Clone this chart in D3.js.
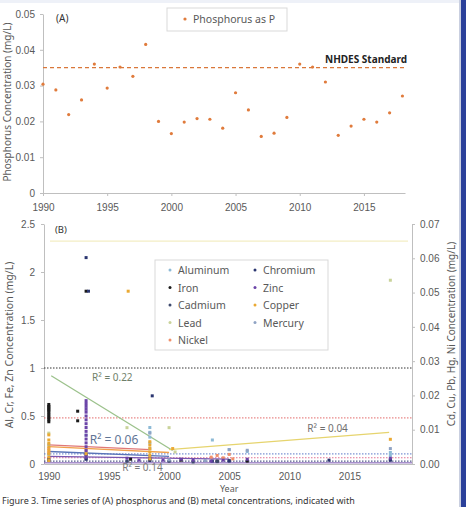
<!DOCTYPE html>
<html>
<head>
<meta charset="utf-8">
<script src="https://cdn.jsdelivr.net/npm/d3@7/dist/d3.min.js"></script>
<style>
	body { margin: 0; background: #fff; }
	svg { display: block; font-family: "Noto Sans", "Open Sans", sans-serif; }
	.tick text { fill: #595959; font-size: 10px; }
</style>
</head>
<body>
<svg id="chart" width="466" height="507"></svg>
<script>
// ---- panel A : phosphorus ----
var pYears = [1990,1991,1992,1993,1994,1995,1996,1997,1998,1999,2000,2001,2002,2003,2004,2005,2006,2007,2008,2009,2010,2011,2012,2013,2014,2015,2016,2017,2018];
var pValues = [0.0304,0.0288,0.0219,0.0260,0.0360,0.0293,0.0352,0.0326,0.0415,0.0200,0.0166,0.0198,0.0208,0.0206,0.0181,0.0280,0.0232,0.0158,0.0167,0.0211,0.0360,0.0352,0.0310,0.0161,0.0187,0.0206,0.0198,0.0224,0.0271];
var pStandard = 0.035;
var pTicksY = [0, 0.01, 0.02, 0.03, 0.04, 0.05];
var yearTicks = [1990, 1995, 2000, 2005, 2010, 2015];

// ---- panel B : metals, left axis (Al, Cr, Fe, Zn) ----
var aluminum = [[1990,0.2],[1990,0.1],[1993.1,0.3],[1998.4,0.38],[1998.4,0.33],[1998.4,0.28],[1998.4,0.22],[1998.4,0.16],[2003.6,0.25],[2005,0.15],[2006.5,0.13],[2018.4,0.12],[2018.4,0.09]];
var iron = [[1990,0.62],[1990,0.6],[1990,0.59],[1990,0.57],[1990,0.56],[1990,0.54],[1990,0.52],[1990,0.5],[1990,0.48],[1990,0.46],[1990,0.44],[1992.4,0.55],[1992.4,0.45],[1993.1,1.8],[1993.1,0.1],[1996.8,0.05],[1998.4,0.06],[2001,0.04],[2004,0.03],[2006.5,0.03]];
var chromium = [[1993.1,2.15],[1993.3,1.8],[1998.6,0.71],[1990,0.05],[1993.1,0.05],[1998.4,0.04],[2003.6,0.03],[2005,0.03],[2013.3,0.04],[2018.4,0.04]];
var zinc = [[1993.1,0.66],[1993.1,0.63],[1993.1,0.6],[1993.1,0.57],[1993.1,0.54],[1993.1,0.5],[1993.1,0.46],[1993.1,0.42],[1993.1,0.38],[1993.1,0.34],[1993.1,0.3],[1993.1,0.26],[1993.1,0.22],[1993.1,0.18],[1993.1,0.14],[1993.1,0.1],[1993.1,0.07],[1996.5,0.06],[1997.5,0.04],[1998.4,0.06],[1999.5,0.04],[2001,0.05],[2002,0.04],[2003.5,0.03],[2004.5,0.04],[2006.5,0.05],[2018.4,0.06]];

// ---- panel B : metals, right axis (Cd, Cu, Pb, Hg, Ni) ----
var cadmium = [[1990,0.0012],[1993.1,0.0015],[1996.5,0.0008],[1998.4,0.001],[2000,0.0008],[2002,0.0006],[2004,0.0007],[2005,0.001],[2018.4,0.0012]];
var copper = [[1990,0.0085],[1990,0.007],[1990,0.006],[1990,0.005],[1990,0.004],[1990,0.003],[1990,0.002],[1990,0.001],[1993.1,0.003],[1996.6,0.0504],[1998.4,0.0065],[1998.4,0.0055],[1998.4,0.0045],[1998.4,0.0035],[1998.4,0.0025],[1998.4,0.0015],[2000.3,0.0045],[2018.4,0.0072]];
var lead = [[1996.5,0.0106],[2000,0.0106],[2000.5,0.0035],[2018.4,0.0536],[1990,0.009]];
var mercury = [[1998.4,0.009],[2000,0.0012],[2003,0.001],[2005,0.0042],[2006.5,0.004],[2018.4,0.0045]];
var nickel = [[1990,0.0045],[1990,0.0035],[1993.1,0.004],[2003.5,0.002],[2004,0.0025],[2004.5,0.0018],[2005,0.0028],[2005.3,0.0015]];

var metals = ["Aluminum","Iron","Cadmium","Lead","Nickel","Chromium","Zinc","Copper","Mercury"];
var metalColors = ["#8dbad6","#1b1b1b","#3f4a6e","#c9d39a","#f0906a","#2b3670","#6b44a8","#eaa933","#8fa3c4"];
var metalData = [aluminum, iron, cadmium, lead, nickel, chromium, zinc, copper, mercury];
var rightAxisMetals = ["Cadmium","Copper","Lead","Mercury","Nickel"];

// trend lines: [x0, y0, x1, y1] in left-axis units
var trendColors = ["#9cc28c","#e6d46e","#f0a04c","#e07878","#5a74b8","#7a56b0"];
var trendLines = [[1990.2,0.92,2000.3,0.14],[2000,0.15,2018.3,0.33],[1990,0.18,2000,0.12],[1990,0.2,1998.4,0.15],[1990,0.13,2000,0.08],[1990,0.08,2005,0.05]];
var r2Labels = ["R\u00b2 = 0.22","R\u00b2 = 0.06","R\u00b2 = 0.14","R\u00b2 = 0.04"];
var r2Pos = [[1993.6,0.86],[1993.4,0.21],[1996.1,-0.07],[2011.5,0.33]];
var r2Colors = ["#6f7f6a","#5f7596","#7a7a7a","#6f6f6f"];

// horizontal reference lines (left units) and styles
var refValues = [1.0, 0.48, 0.105, 0.065, 0.03];
var refColors = ["#333333","#e36a6a","#5a78c8","#e07090","#2b3670"];

var leftTicksB = [0, 0.5, 1, 1.5, 2, 2.5];
var rightTicksB = [0, 0.01, 0.02, 0.03, 0.04, 0.05, 0.06, 0.07];

var svg = d3.select("#chart");

// page frame bits
svg.append("rect").attr("x",0).attr("y",0).attr("width",466).attr("height",3).attr("fill","#eef1f8");
svg.append("rect").attr("x",459).attr("y",0).attr("width",2).attr("height",507).attr("fill","#c9cfe0");
svg.append("rect").attr("x",461).attr("y",0).attr("width",5).attr("height",507).attr("fill","#2b409a");

// ===================== Panel A =====================
var xA = d3.scaleLinear().domain([1990, 2018.2]).range([43, 405]);
var yA = d3.scaleLinear().domain([0, 0.05]).range([193, 14]);

var axA = svg.append("g");
axA.append("g")
	.attr("transform","translate(0,193)")
	.call(d3.axisBottom(xA).tickValues(yearTicks).tickFormat(d3.format("d")).tickSize(3).tickSizeOuter(0))
	.call(function(g){ g.selectAll("line,path").attr("stroke","#bfbfbf"); g.selectAll("text").attr("dy","1.2em"); });
axA.append("g")
	.attr("transform","translate(43,0)")
	.call(d3.axisLeft(yA).tickValues(pTicksY).tickFormat(function(d){ return d === 0 ? "0" : d3.format(".2f")(d); }).tickSize(3).tickSizeOuter(0))
	.call(function(g){ g.selectAll("line,path").attr("stroke","#bfbfbf"); g.selectAll("text").attr("x",-8); });

// standard line
svg.append("line")
	.attr("x1", xA(1990)).attr("x2", xA(2018.2))
	.attr("y1", yA(pStandard)).attr("y2", yA(pStandard))
	.attr("stroke","#d9773a").attr("stroke-width",1.2).attr("stroke-dasharray","4,3");
svg.append("text").attr("x",325).attr("y",yA(pStandard)-5)
	.style("font-size","10px").style("font-weight","bold").attr("fill","#222")
	.text("NHDES Standard");

svg.append("g").selectAll("circle")
	.data(pYears)
	.enter().append("circle")
	.attr("cx", function(d){ return xA(d); })
	.attr("cy", function(d,i){ return yA(pValues[i]); })
	.attr("r",1.6)
	.attr("fill","#e07b3c");

svg.append("text").attr("x",56).attr("y",22).style("font-size","10px").attr("fill","#333").text("(A)");

// legend A
svg.append("rect").attr("x",167).attr("y",8).attr("width",120).attr("height",23)
	.attr("fill","#fff").attr("stroke","#d9d9d9");
svg.append("circle").attr("cx",185).attr("cy",19).attr("r",1.6).attr("fill","#e07b3c");
svg.append("text").attr("x",193).attr("y",23).style("font-size","10.5px").attr("fill","#595959").text("Phosphorus as P");

svg.append("text")
	.attr("transform","translate(11,102)rotate(-90)")
	.style("text-anchor","middle").style("font-size","10px").attr("fill","#595959")
	.text("Phosphorus Concentration (mg/L)");

// ===================== Panel B =====================
var xB = d3.scaleLinear().domain([1989.6, 2020.2]).range([44, 412]);
var yL = d3.scaleLinear().domain([0, 2.5]).range([464, 224]);
var yR = d3.scaleLinear().domain([0, 0.07]).range([464, 224]);

svg.append("g")
	.attr("transform","translate(0,464)")
	.call(d3.axisBottom(xB).tickValues(yearTicks).tickFormat(d3.format("d")).tickSize(0).tickSizeOuter(0))
	.call(function(g){ g.selectAll("path").attr("stroke","#bfbfbf"); g.selectAll("text").attr("dy","1.25em"); });
svg.append("g")
	.attr("transform","translate(44,0)")
	.call(d3.axisLeft(yL).tickValues(leftTicksB).tickFormat(function(d){ return d; }).tickSize(3).tickSizeOuter(0))
	.call(function(g){ g.selectAll("line,path").attr("stroke","#bfbfbf"); g.selectAll("text").attr("x",-9); });
svg.append("g")
	.attr("transform","translate(412,0)")
	.call(d3.axisRight(yR).tickValues(rightTicksB).tickFormat(d3.format(".2f")).tickSize(3).tickSizeOuter(0))
	.call(function(g){ g.selectAll("line,path").attr("stroke","#bfbfbf"); g.selectAll("text").attr("x",8); });

// copper standard (right axis) pale line
svg.append("line").attr("x1",50).attr("x2",408)
	.attr("y1",yR(0.065)).attr("y2",yR(0.065))
	.attr("stroke","#f3eec4").attr("stroke-width",1.2);

// dotted reference lines
svg.append("g").selectAll("line")
	.data(refValues)
	.enter().append("line")
	.attr("x1",44).attr("x2",412)
	.attr("y1",function(d){ return yL(d); }).attr("y2",function(d){ return yL(d); })
	.attr("stroke",function(d,i){ return refColors[i]; })
	.attr("stroke-width",1)
	.attr("stroke-dasharray","1.5,1.5");
svg.append("line").attr("x1",44).attr("x2",412).attr("y1",yL(0.012)).attr("y2",yL(0.012))
	.attr("stroke","#7a56b0").attr("stroke-width",1);

// trend lines
svg.append("g").selectAll("line")
	.data(trendLines)
	.enter().append("line")
	.attr("x1",function(d){ return xB(d[0]); }).attr("y1",function(d){ return yL(d[1]); })
	.attr("x2",function(d){ return xB(d[2]); }).attr("y2",function(d){ return yL(d[3]); })
	.attr("stroke",function(d,i){ return trendColors[i]; })
	.attr("stroke-width",1.3);

// metal points
metals.forEach(function(m, k){
	var yScale = rightAxisMetals.indexOf(m) >= 0 ? yR : yL;
	svg.append("g").selectAll("rect")
		.data(metalData[k])
		.enter().append("rect")
		.attr("x",function(d){ return xB(d[0]) - 1.5; })
		.attr("y",function(d){ return yScale(d[1]) - 1.5; })
		.attr("width",3).attr("height",3)
		.attr("fill",metalColors[k]);
});

// R2 labels
svg.append("g").selectAll("text")
	.data(r2Labels)
	.enter().append("text")
	.attr("x",function(d,i){ return xB(r2Pos[i][0]); })
	.attr("y",function(d,i){ return yL(r2Pos[i][1]); })
	.style("font-size",function(d,i){ return i === 1 ? "12px" : "10px"; })
	.attr("fill",function(d,i){ return r2Colors[i]; })
	.text(function(d){ return d; });

svg.append("text").attr("x",55).attr("y",233).style("font-size","9.5px").attr("fill","#333").text("(B)");

// legend B
svg.append("rect").attr("x",155).attr("y",260).attr("width",173).attr("height",90)
	.attr("fill","#fff").attr("stroke","#d9d9d9");
var legItems = svg.append("g").selectAll("g")
	.data(metals)
	.enter().append("g")
	.attr("transform",function(d,i){
		var col = i < 5 ? 0 : 1, row = i < 5 ? i : i - 5;
		return "translate(" + (170 + col*85) + "," + (270 + row*17.5) + ")";
	});
legItems.append("circle").attr("r",1.5).attr("fill",function(d,i){ return metalColors[i]; });
legItems.append("text").attr("x",8).attr("y",4)
	.style("font-size","10.5px").attr("fill","#595959")
	.text(function(d){ return d; });

// axis titles
svg.append("text")
	.attr("transform","translate(13,345)rotate(-90)")
	.style("text-anchor","middle").style("font-size","10.5px").attr("fill","#595959")
	.text("Al, Cr, Fe, Zn Concentration (mg/L)");
svg.append("text")
	.attr("transform","translate(455,334)rotate(-90)")
	.style("text-anchor","middle").style("font-size","10px").attr("fill","#595959")
	.text("Cd, Cu, Pb, Hg, Ni Concentration (mg/L)");
svg.append("text").attr("x",xB(2005)).attr("y",492)
	.style("text-anchor","middle").style("font-size","9px").attr("fill","#595959")
	.text("Year");

// caption
svg.append("text").attr("x",2).attr("y",503.5)
	.style("font-size","9px").attr("fill","#333")
	.text("Figure 3. Time series of (A) phosphorus and (B) metal concentrations, indicated with");
</script>
</body>
</html>
